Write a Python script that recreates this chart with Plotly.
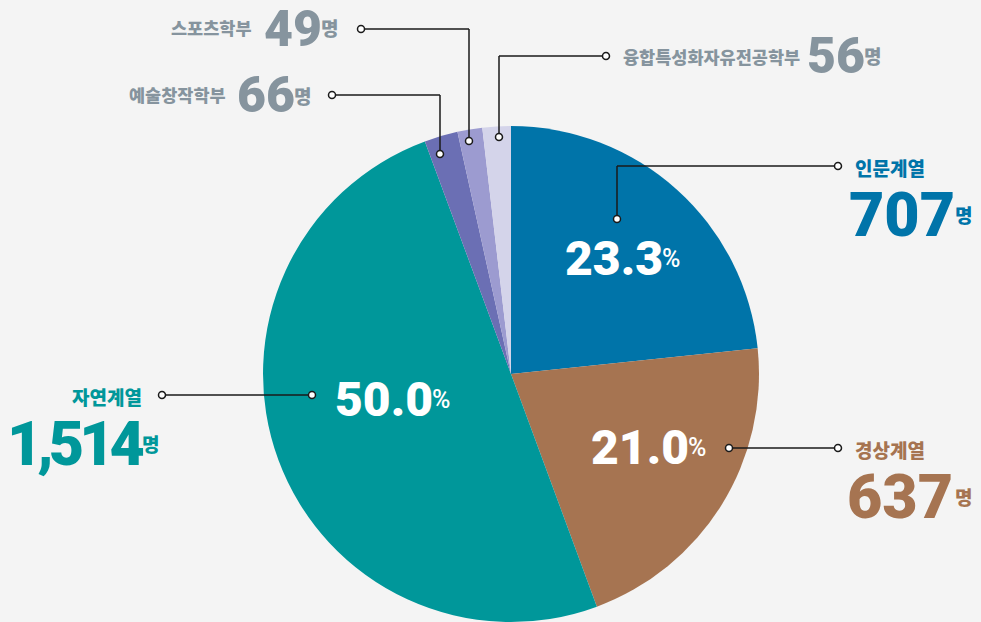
import plotly.graph_objects as go

# ---- data ----
categories = ["인문계열", "경상계열", "자연계열", "예술창작학부", "스포츠학부", "융합특성화자유전공학부"]
counts = [707, 637, 1514, 66, 49, 56]
colors = ["#0074a9", "#a67451", "#00979a", "#6b6fb4", "#9c9bd0", "#d4d4ea"]
unit = "명"

W, H = 981, 622
BG = "#f4f4f4"
GRAY = "#86949e"
KR = "Noto Sans CJK KR"
NUM = "Roboto"

total = sum(counts)
pcts = [c / total * 100 for c in counts]

# pie geometry (pixels)
cx, cy, R = 511, 374, 248

fig = go.Figure()
fig.add_trace(go.Pie(
    labels=categories, values=counts, sort=False, direction="clockwise", rotation=0,
    marker=dict(colors=colors, line=dict(width=0)),
    textinfo="none", hoverinfo="label+value+percent", showlegend=False,
    domain=dict(x=[(cx - R) / W, (cx + R) / W], y=[0, 2 * R / H]),
))

def px(x):
    return x / W

def py(y):
    return 1 - y / H

ann = []
shapes = []

def text(x, y, s, size, color, family, anchor="left", weight="bold"):
    ann.append(dict(x=px(x), y=py(y), xref="paper", yref="paper", text=s, showarrow=False,
                    xanchor=anchor, yanchor="middle", borderpad=0, borderwidth=0,
                    font=dict(size=size, color=color, family=family, weight=weight)))

def fmt_num(v, spacing=0):
    s = f"{v:,}"
    if spacing:
        s = f"<span style='letter-spacing:{spacing}px'>{s}</span>"
    return s

main_layout = {
    0: dict(lab=(855, 168, "left"), num=(955, 215), u=(955, 214), sp=0, color=colors[0]),
    1: dict(lab=(855, 449, "left"), num=(953, 497), u=(955, 496), sp=0, color=colors[1]),
    2: dict(lab=(142, 396, "right"), num=(144, 444), u=(142, 443), sp=-5, color=colors[2]),
}
for i, L in main_layout.items():
    lx, ly, la = L["lab"]
    text(lx, ly, categories[i], 19, L["color"], KR, la, weight=900)
    nx, ny = L["num"]
    text(nx, ny, fmt_num(counts[i], L["sp"]), 61, L["color"], NUM, "right", weight=900)
    ux, uy = L["u"]
    text(ux, uy, unit, 19, L["color"], KR, "left", weight=900)

small_layout = {
    3: dict(lab=(226, 94), num=(295, 95), u=(294, 95)),
    4: dict(lab=(252, 28), num=(322, 29), u=(321, 28)),
    5: dict(lab=(800, 57), num=(865, 56), u=(864, 56)),
}
for i, L in small_layout.items():
    lx, ly = L["lab"]
    text(lx, ly, categories[i], 17.5, GRAY, KR, "right", weight=900)
    nx, ny = L["num"]
    text(nx, ny, fmt_num(counts[i]), 50, GRAY, NUM, "right", weight=900)
    ux, uy = L["u"]
    text(ux, uy, unit, 19, GRAY, KR, "left", weight=900)

pct_layout = {0: (663, 259), 1: (689, 447), 2: (433, 399)}
for i, (x, y) in pct_layout.items():
    text(x, y, f"{pcts[i]:.1f}", 48, "white", NUM, "right", weight=900)
    text(x - 1, y, "%", 25, "white", NUM, "left", weight=500)

leaders = [
    [(617, 219), (617, 166), (838, 166)],
    [(729, 448), (838, 448)],
    [(162, 395), (312, 395)],
    [(440, 154), (440, 95), (332, 95)],
    [(469, 141), (469, 29), (361, 29)],
    [(499, 137), (499, 56), (606, 56)],
]
for pts in leaders:
    for (x0, y0), (x1, y1) in zip(pts[:-1], pts[1:]):
        shapes.append(dict(type="line", xref="paper", yref="paper",
                           x0=px(x0), y0=py(y0), x1=px(x1), y1=py(y1),
                           line=dict(color="#1a1a1a", width=1.5)))
    for (x, y) in (pts[0], pts[-1]):
        r = 3.5
        shapes.append(dict(type="circle", xref="paper", yref="paper",
                           x0=px(x - r), x1=px(x + r), y0=py(y + r), y1=py(y - r),
                           fillcolor="white", line=dict(color="#1a1a1a", width=1.5)))

fig.update_layout(
    width=W, height=H, margin=dict(l=0, r=0, t=0, b=0),
    paper_bgcolor=BG, plot_bgcolor=BG,
    annotations=ann, shapes=shapes,
)
fig.write_html("out.html", config={"displayModeBar": False},
               post_script="document.body.style.margin='0';document.body.style.overflow='hidden';")
